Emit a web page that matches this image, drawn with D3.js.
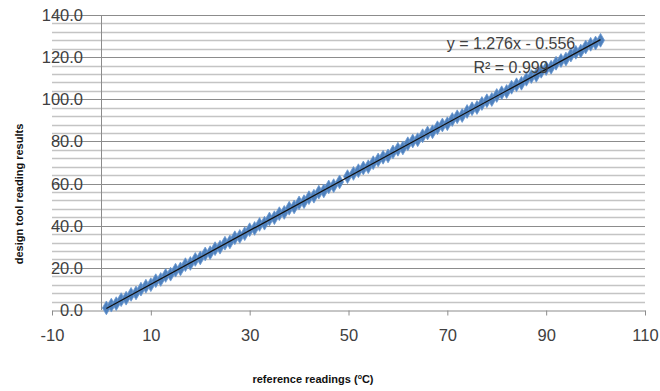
<!DOCTYPE html>
<html>
<head>
<meta charset="utf-8">
<script src="https://cdn.jsdelivr.net/npm/d3@7"></script>
<style>
  body { margin: 0; background: #fff; }
  svg { display: block; }
</style>
</head>
<body>
<div id="chart"></div>
<script>
// readings (x = reference, y = design tool)
var ref_x = [1, 2, 3, 4, 5, 6, 7, 8, 9, 10, 11, 12, 13, 14, 15, 16, 17, 18, 19, 20,
             21, 22, 23, 24, 25, 26, 27, 28, 29, 30, 31, 32, 33, 34, 35, 36, 37, 38, 39, 40,
             41, 42, 43, 44, 45, 46, 47, 48.2, 49.8, 51, 52, 53, 54, 55, 56, 57, 58, 59, 60,
             61, 62, 63, 64, 65, 66, 67, 68, 69, 70, 71, 72, 73, 74, 75, 76, 77, 78, 79, 80,
             81, 82, 83, 84, 85, 86, 87, 88, 89, 90, 91, 92, 93, 94, 95, 96, 97, 98, 99, 100, 101];
var tool_y = [1.0, 2.3, 3.0, 4.9, 5.6, 7.4, 8.1, 9.9, 11.3, 12.0, 13.9, 14.5, 16.4, 17.0, 18.9, 19.5, 21.5, 22.1, 24.0, 24.7,
              26.6, 27.2, 29.1, 29.8, 31.7, 32.3, 34.3, 34.9, 36.2, 38.1, 38.7, 40.6, 41.2, 43.2, 43.8, 45.7, 46.3, 48.3, 48.9, 50.8,
              51.4, 53.3, 54.0, 55.9, 56.5, 58.4, 59.0, 60.8, 63.3, 64.8, 66.1, 67.4, 68.0, 69.9, 71.2, 72.5, 73.1, 75.0, 76.3,
              76.9, 78.9, 80.2, 80.8, 82.7, 84.0, 84.6, 86.5, 87.8, 88.4, 90.4, 91.7, 92.3, 94.2, 95.5, 96.1, 98.0, 99.3, 99.9, 101.8,
              103.1, 103.7, 105.7, 106.9, 107.6, 109.5, 110.8, 111.4, 113.3, 114.6, 115.2, 117.1, 118.4, 119.1, 121.0, 122.3, 122.9, 124.8, 126.1, 126.7, 128.0];

// linear trendline shown on the chart
var trend_slope = 1.276;
var trend_intercept = -0.556;
var trend_labels = ['y = 1.276x - 0.556', 'R\u00B2 = 0.999'];

var x_ticks = [-10, 10, 30, 50, 70, 90, 110];
var y_ticks = [0, 20, 40, 60, 80, 100, 120, 140];

var chart_width = 660;
var chart_height = 391;

var x_scale = d3.scaleLinear().domain([-10, 110]).range([52, 645]);
var y_scale = d3.scaleLinear().domain([0, 140]).range([310, 15]);

var svg = d3.select('#chart')
            .append('svg')
            .attr('width', chart_width)
            .attr('height', chart_height);

// minor gridlines every 4
svg.append('g')
   .selectAll('line')
   .data(d3.range(0, 141, 4).filter(function(d){ return d % 20 !== 0; }))
   .enter()
   .append('line')
   .attr('x1', x_scale(-10))
   .attr('x2', x_scale(110))
   .attr('y1', function(d){ return Math.round(y_scale(d)) + 0.5; })
   .attr('y2', function(d){ return Math.round(y_scale(d)) + 0.5; })
   .attr('stroke', '#c4c4c4')
   .attr('stroke-width', 1.5);

// major gridlines
svg.append('g')
   .selectAll('line')
   .data(y_ticks.slice(1))
   .enter()
   .append('line')
   .attr('x1', x_scale(-10))
   .attr('x2', x_scale(110))
   .attr('y1', function(d){ return Math.round(y_scale(d)) + 0.5; })
   .attr('y2', function(d){ return Math.round(y_scale(d)) + 0.5; })
   .attr('stroke', '#8c8c8c')
   .attr('stroke-width', 1);

// x axis at y = 0
var x_axis = svg.append('g')
   .attr('transform', 'translate(0,' + (Math.round(y_scale(0)) + 0.5) + ')')
   .call(d3.axisBottom(x_scale)
           .tickValues(x_ticks)
           .tickFormat(function(d){ return String(d); })
           .tickSize(5).tickPadding(14).tickSizeOuter(0));
x_axis.select('.domain').attr('stroke', '#8c8c8c');
x_axis.selectAll('.tick line').attr('stroke', '#8c8c8c');
x_axis.selectAll('text')
      .style('font-family', 'Liberation Sans, Arial, sans-serif')
      .style('font-size', '16.5px')
      .attr('fill', '#404040');

// y axis line at x = 0
svg.append('line')
   .attr('x1', Math.round(x_scale(0)) + 0.5)
   .attr('x2', Math.round(x_scale(0)) + 0.5)
   .attr('y1', y_scale(140))
   .attr('y2', y_scale(0))
   .attr('stroke', '#8c8c8c');

// y tick labels
svg.append('g')
   .selectAll('text')
   .data(y_ticks)
   .enter()
   .append('text')
   .text(function(d){ return d.toFixed(1); })
   .attr('x', 83)
   .attr('y', function(d){ return y_scale(d); })
   .attr('dy', '0.36em')
   .attr('text-anchor', 'end')
   .style('font-family', 'Liberation Sans, Arial, sans-serif')
   .style('font-size', '16.5px')
   .attr('fill', '#404040');

// data points
svg.append('g')
   .selectAll('path')
   .data(ref_x)
   .enter()
   .append('path')
   .attr('d', d3.symbol().type(d3.symbolDiamond).size(55))
   .attr('transform', function(d, i){
     return 'translate(' + x_scale(d) + ',' + y_scale(tool_y[i]) + ')';
   })
   .attr('fill', '#4F81BD')
   .attr('stroke', '#6a98d0')
   .attr('stroke-width', 0.8);

// trendline
var x_min = d3.min(ref_x), x_max = d3.max(ref_x);
svg.append('line')
   .attr('x1', x_scale(x_min))
   .attr('y1', y_scale(trend_slope * x_min + trend_intercept))
   .attr('x2', x_scale(x_max))
   .attr('y2', y_scale(trend_slope * x_max + trend_intercept))
   .attr('stroke', '#111')
   .attr('stroke-width', 1.3);

// equation label
var eq = svg.append('text')
   .attr('x', 511)
   .attr('y', 49)
   .attr('text-anchor', 'middle')
   .style('font-family', 'Liberation Sans, Arial, sans-serif')
   .style('font-size', '16px')
   .attr('fill', '#404040');
eq.append('tspan').attr('x', 511).attr('y', 49).text(trend_labels[0]);
eq.append('tspan').attr('x', 511).attr('y', 73).text(trend_labels[1]);

// axis titles
svg.append('text')
   .attr('transform', 'translate(23,194) rotate(-90)')
   .attr('text-anchor', 'middle')
   .style('font-family', 'Liberation Sans, Arial, sans-serif')
   .style('font-size', '11px')
   .style('font-weight', 'bold')
   .attr('fill', '#111')
   .text('design tool reading results');

var xt = svg.append('text')
   .attr('x', 313)
   .attr('y', 383)
   .attr('text-anchor', 'middle')
   .style('font-family', 'Liberation Sans, Arial, sans-serif')
   .style('font-size', '11px')
   .style('font-weight', 'bold')
   .attr('fill', '#111');
xt.append('tspan').text('reference readings (');
xt.append('tspan').attr('font-size', '7px').attr('dy', '-4').text('o');
xt.append('tspan').attr('dy', '4').text('C)');
</script>
</body>
</html>
